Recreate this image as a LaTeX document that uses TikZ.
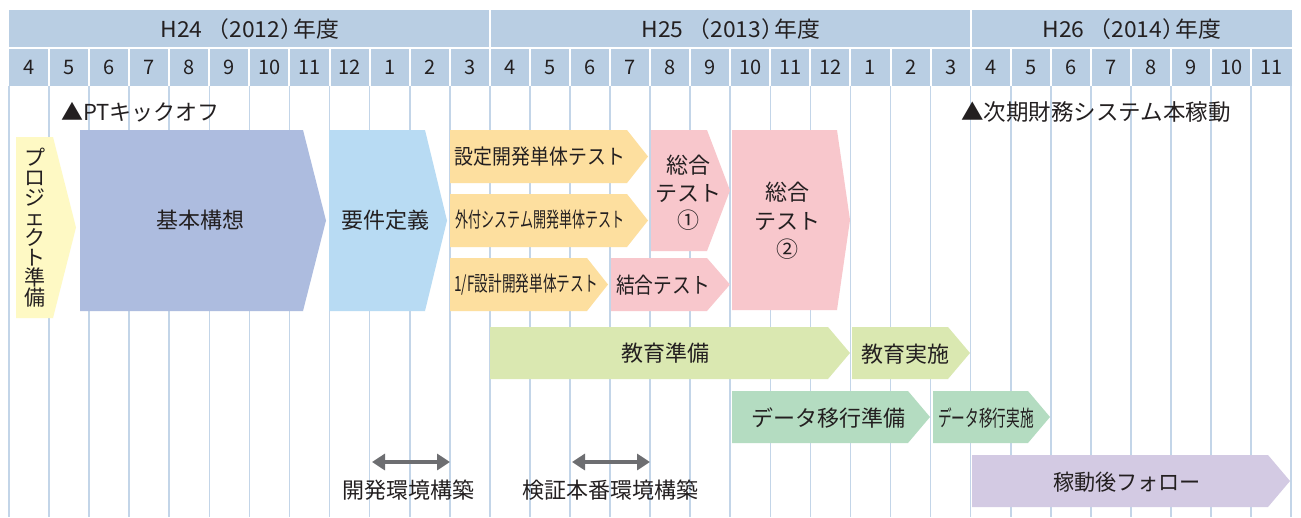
\documentclass[tikz,border=0pt]{standalone}
\usepackage{fontspec}
\setmainfont{Noto Sans CJK JP}
\usepackage{graphicx}
\usepackage{tikz}
\usetikzlibrary{arrows.meta}
\definecolor{headblue}{HTML}{B9CEE3}
\definecolor{gridblue}{HTML}{C3D5E8}
\definecolor{ink}{HTML}{231F20}
\definecolor{prepyellow}{HTML}{FEF9C4}
\definecolor{planblue}{HTML}{ADBCDF}
\definecolor{reqblue}{HTML}{B8DBF3}
\definecolor{devorange}{HTML}{FDDF9F}
\definecolor{testpink}{HTML}{F8C7CC}
\definecolor{edugreen}{HTML}{DAE8B1}
\definecolor{datagreen}{HTML}{B4DCC1}
\definecolor{followlilac}{HTML}{D3CAE3}
\definecolor{arrowgray}{HTML}{6D6E71}
\tikzset{
  phase text/.style={
    inner sep=0pt, text=ink,
    font=\fontsize{22}{27}\selectfont
  },
  head text/.style={
    phase text, font=\fontsize{22}{24}\selectfont
  },
  month text/.style={
    phase text, font=\fontsize{20}{22}\selectfont
  },
  grid line/.style={
    gridblue, line width=1.6pt
  },
  sep line/.style={
    white, line width=2pt
  },
  env arrow/.style={
    arrowgray, line width=4pt,
    {Triangle[width=16pt, length=13pt]}-{Triangle[width=16pt, length=13pt]}
  }
}
% colour, left, shoulder, tip, top, bottom
\newcommand\phasebar[6]{%
  \fill[#1] (#2,#5) -- (#3,#5) -- (#4,{(#5+#6)/2}) -- (#3,#6) -- (#2,#6) -- cycle;}
\newcommand\fylabel[2]{\scalebox{1.04}[1]{H#1\hspace{4pt}（#2）\hspace{-9pt}年度}}

\begin{document}
\begin{tikzpicture}[x=1pt, y=-1pt]
      \useasboundingbox[fill=white] (0,0) rectangle (1301,517);
      % month grid
      \foreach \k in {0,...,32}
        \draw[grid line] ({9+40.07*\k},86) -- ({9+40.07*\k},517);
      % header
      \fill[headblue] (9,10) rectangle (1292,86);
      \draw[sep line] (9,48) -- (1292,48);
      \foreach \k in {1,...,31}
        \draw[sep line] ({9+40.07*\k},48) -- ({9+40.07*\k},86);
      \foreach \k in {12,24}
        \draw[sep line] ({9+40.07*\k},10) -- ({9+40.07*\k},48);
      \node[head text] (fy24) at (250,29) {\fylabel{24}{2012}};
      \node[head text] (fy25) at (731,29) {\fylabel{25}{2013}};
      \node[head text] (fy26) at (1132,29) {\fylabel{26}{2014}};
      \foreach \m [count=\k from 0] in {4,5,6,7,8,9,10,11,12,1,2,3,4,5,6,7,8,9,10,11,12,1,2,3,4,5,6,7,8,9,10,11}
        \node[month text] (m\k) at ({29+40.07*\k},67.5) {\m};
      % milestones
      \node[phase text, anchor=west] (kickoff) at (61,112) {▲PTキックオフ};
      \node[phase text, anchor=west, font=\fontsize{22.5}{27}\selectfont] (golive) at (961,112)
        {▲次期財務システム本稼動};
      % phases
      \phasebar{prepyellow}{16}{53}{76}{137}{318}
      \phasebar{planblue}{80}{303}{326}{130}{311}
      \phasebar{reqblue}{329}{425}{447}{130}{311}
      \phasebar{devorange}{450}{627}{648}{130}{183}
      \phasebar{devorange}{450}{627}{648}{194}{247}
      \phasebar{devorange}{450}{587}{608}{258}{311}
      \phasebar{testpink}{651}{707}{730}{130}{251}
      \phasebar{testpink}{611}{707}{730}{258}{311}
      \phasebar{testpink}{732}{837}{850}{130}{310}
      \phasebar{edugreen}{490}{828}{850}{327}{379}
      \phasebar{edugreen}{852}{948}{970}{327}{379}
      \phasebar{datagreen}{732}{908}{930}{391}{443}
      \phasebar{datagreen}{933}{1028}{1050}{391}{443}
      \phasebar{followlilac}{972}{1268}{1290}{455}{507}
      \node[phase text, align=center, font=\fontsize{21}{20}\selectfont] (prep) at (35,228)
        {プ\\ロ\\ジ\\ェ\\ク\\ト\\準\\備};
      \node[phase text] (plan) at (200,220) {基本構想};
      \node[phase text] (req) at (385,220) {要件定義};
      \node[phase text, font=\fontsize{21}{24}\selectfont] (setdev) at (540,157)
        {\scalebox{0.9}[1]{設定開発単体テスト}};
      \node[phase text, font=\fontsize{21}{24}\selectfont] (extdev) at (540,220)
        {\scalebox{0.62}[1]{外付システム開発単体テスト}};
      \node[phase text, font=\fontsize{21}{24}\selectfont] (ifdev) at (526,285)
        {\scalebox{0.65}[1]{1/F設計開発単体テスト}};
      \node[phase text, align=center, font=\fontsize{22}{27.5}\selectfont] (st1) at (688,193)
        {総合\\テスト\\①};
      \node[phase text] (join) at (663,285) {\scalebox{0.85}[1]{結合テスト}};
      \node[phase text, align=center, font=\fontsize{22}{28.5}\selectfont] (st2) at (787,221)
        {総合\\テスト\\②};
      \node[phase text] (eduprep) at (665,353) {教育準備};
      \node[phase text] (edurun) at (905,354) {教育実施};
      \node[phase text] (dataprep) at (828,418) {データ移行準備};
      \node[phase text] (datarun) at (986,418) {\scalebox{0.62}[1]{データ移行実施}};
      \node[phase text] (follow) at (1127,482) {\scalebox{0.96}[1]{稼動後フォロー}};
      % environments
      \coordinate (devL) at (372,462);
      \coordinate (devR) at (450,462);
      \coordinate (prodL) at (572,462);
      \coordinate (prodR) at (650,462);
      \draw[env arrow] (devL) -- (devR);
      \draw[env arrow] (prodL) -- (prodR);
      \node[phase text] (devenv) at (408,490) {開発環境構築};
      \node[phase text] (prodenv) at (610,490) {検証本番環境構築};
    \end{tikzpicture}
\end{document}
